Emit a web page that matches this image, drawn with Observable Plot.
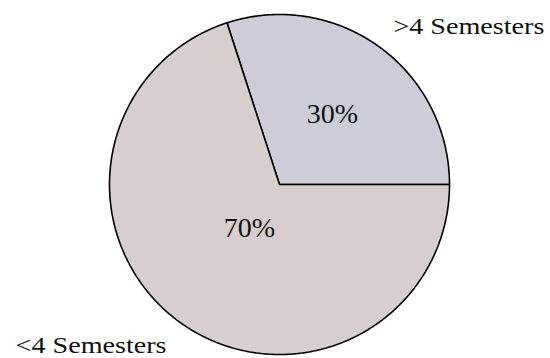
<!DOCTYPE html>
<html>
<head>
<meta charset="utf-8">
<script src="https://cdn.jsdelivr.net/npm/d3@7"></script>
<script src="https://cdn.jsdelivr.net/npm/@observablehq/plot@0.6"></script>
<style>
  html, body { margin: 0; padding: 0; background: #fff; }
  svg text { font-family: "Liberation Serif", "Times New Roman", serif; }
</style>
</head>
<body>
<div id="chart"></div>
<script>
// Data
const categories = [">4 Semesters", "<4 Semesters"];
const values = [30, 70];
const pctLabels = ["30%", "70%"];
const colors = ["#cccdd9", "#d8cecd"];

// Layout constants
const W = 550, H = 358;
const cx = 279, cy = 184, R = 170; // pixel center & radius
const xDomain = [-cx / R, (W - cx) / R];
const yDomain = [-(H - cy) / R, cy / R];

const total = d3.sum(values);
let start = 0;
const slices = values.map((v, i) => {
  const a0 = start, a1 = start + v / total * 2 * Math.PI;
  start = a1;
  return {cat: categories[i], pct: pctLabels[i], color: colors[i], a0, a1, mid: (a0 + a1) / 2};
});

// polygon vertices for each slice (unit circle coords)
function slicePoints(s) {
  const pts = [{x: 0, y: 0, cat: s.cat}];
  const n = Math.max(2, Math.ceil((s.a1 - s.a0) / (Math.PI / 360)));
  for (let k = 0; k <= n; k++) {
    const a = s.a0 + (s.a1 - s.a0) * k / n;
    pts.push({x: Math.cos(a), y: Math.sin(a), cat: s.cat});
  }
  pts.push({x: 0, y: 0, cat: s.cat});
  return pts;
}

const pctRadius = [0.53, 0.30];
const pctPos = slices.map((s, i) => ({
  x: pctRadius[i] * Math.cos(s.mid), y: pctRadius[i] * Math.sin(s.mid), text: s.pct
}));
const outPos = slices.map(s => ({
  x: 1.1 * Math.cos(s.mid), y: 1.1 * Math.sin(s.mid), text: s.cat
}));

const font = "Liberation Serif";

const chart = Plot.plot({
  width: W,
  height: H,
  margin: 0,
  x: {domain: xDomain, axis: null},
  y: {domain: yDomain, axis: null},
  style: {background: "#fff"},
  marks: [
    ...slices.map(s => Plot.line(slicePoints(s), {
      x: "x", y: "y", fill: s.color, stroke: "#000", strokeWidth: 1.6,
      strokeLinejoin: "miter", curve: "linear"
    })),
    Plot.text(pctPos, {x: "x", y: "y", text: "text", fontSize: 28, fontFamily: font, fill: "#111", dy: 2}),
    Plot.text([outPos[0]], {x: "x", y: "y", text: "text", fontSize: 22.6, fontFamily: font, fill: "#111",
      textAnchor: "start", dx: 4, dy: -6}),
    Plot.text([outPos[1]], {x: "x", y: "y", text: "text", fontSize: 22.6, fontFamily: font, fill: "#111",
      textAnchor: "end", dx: -3, dy: 10})
  ]
});
// the reference's outer labels are drawn horizontally stretched
d3.select(chart).selectAll("text")
  .filter(function() { return categories.includes(this.textContent); })
  .attr("textLength", 151)
  .attr("lengthAdjust", "spacingAndGlyphs");
document.getElementById("chart").appendChild(chart);
</script>
</body>
</html>
